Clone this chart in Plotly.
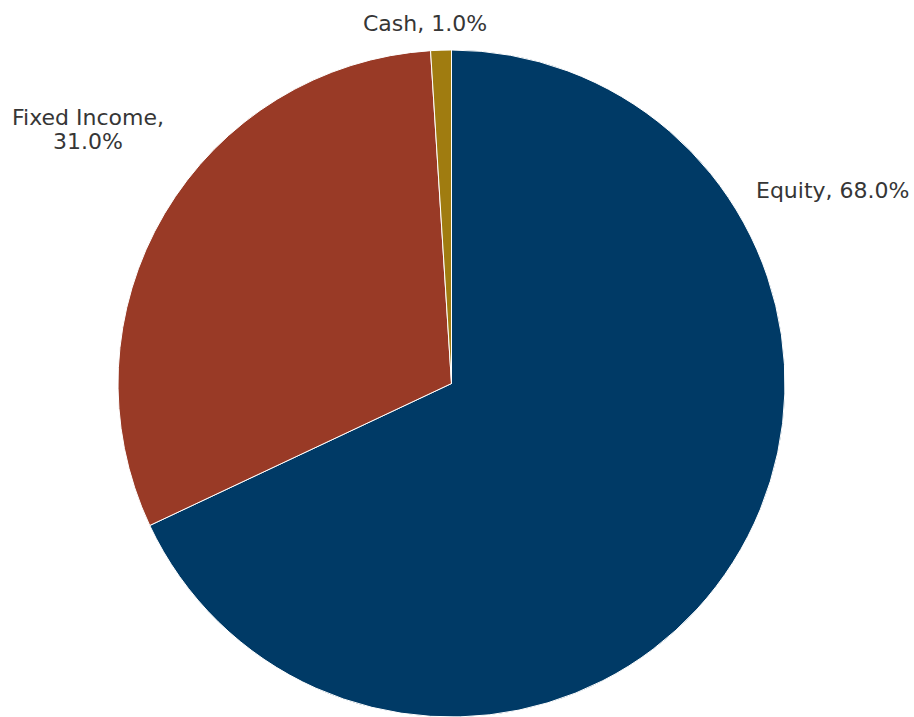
import plotly.graph_objects as go

labels = ["Equity", "Fixed Income", "Cash"]
values = [68.0, 31.0, 1.0]
colors = ["#003a66", "#993a26", "#a07c10"]

W, H = 914, 717
# label anchor positions in pixels (styling); one entry per text line
label_lines = [
    [f"{labels[0]}, {values[0]:.1f}%"],
    [f"{labels[1]},", f"{values[1]:.1f}%"],
    [f"{labels[2]}, {values[2]:.1f}%"],
]
label_pos = [[(832, 191)], [(88, 118), (88, 141)], [(425, 23)]]

fig = go.Figure(
    go.Pie(
        labels=labels,
        values=values,
        marker=dict(colors=colors, line=dict(color="white", width=1)),
        sort=False,
        direction="clockwise",
        rotation=0,
        textinfo="none",
        showlegend=False,
        domain=dict(x=[0, 903 / W], y=[0, 1 - 50 / H]),
    )
)

for lines, poss in zip(label_lines, label_pos):
    for t, (px, py) in zip(lines, poss):
        fig.add_annotation(
            x=px / W, y=1 - py / H, xref="paper", yref="paper",
            text=t, showarrow=False, xanchor="center", yanchor="middle",
            font=dict(family="DejaVu Sans, Verdana, sans-serif", size=22, color="#363636"),
        )

fig.update_layout(
    width=W, height=H,
    margin=dict(l=0, r=0, t=0, b=0),
    paper_bgcolor="white",
    plot_bgcolor="white",
)

fig.write_html(
    "out.html",
    config={"displayModeBar": False},
    post_script="document.body.style.margin='0';document.body.style.overflow='hidden';",
)
